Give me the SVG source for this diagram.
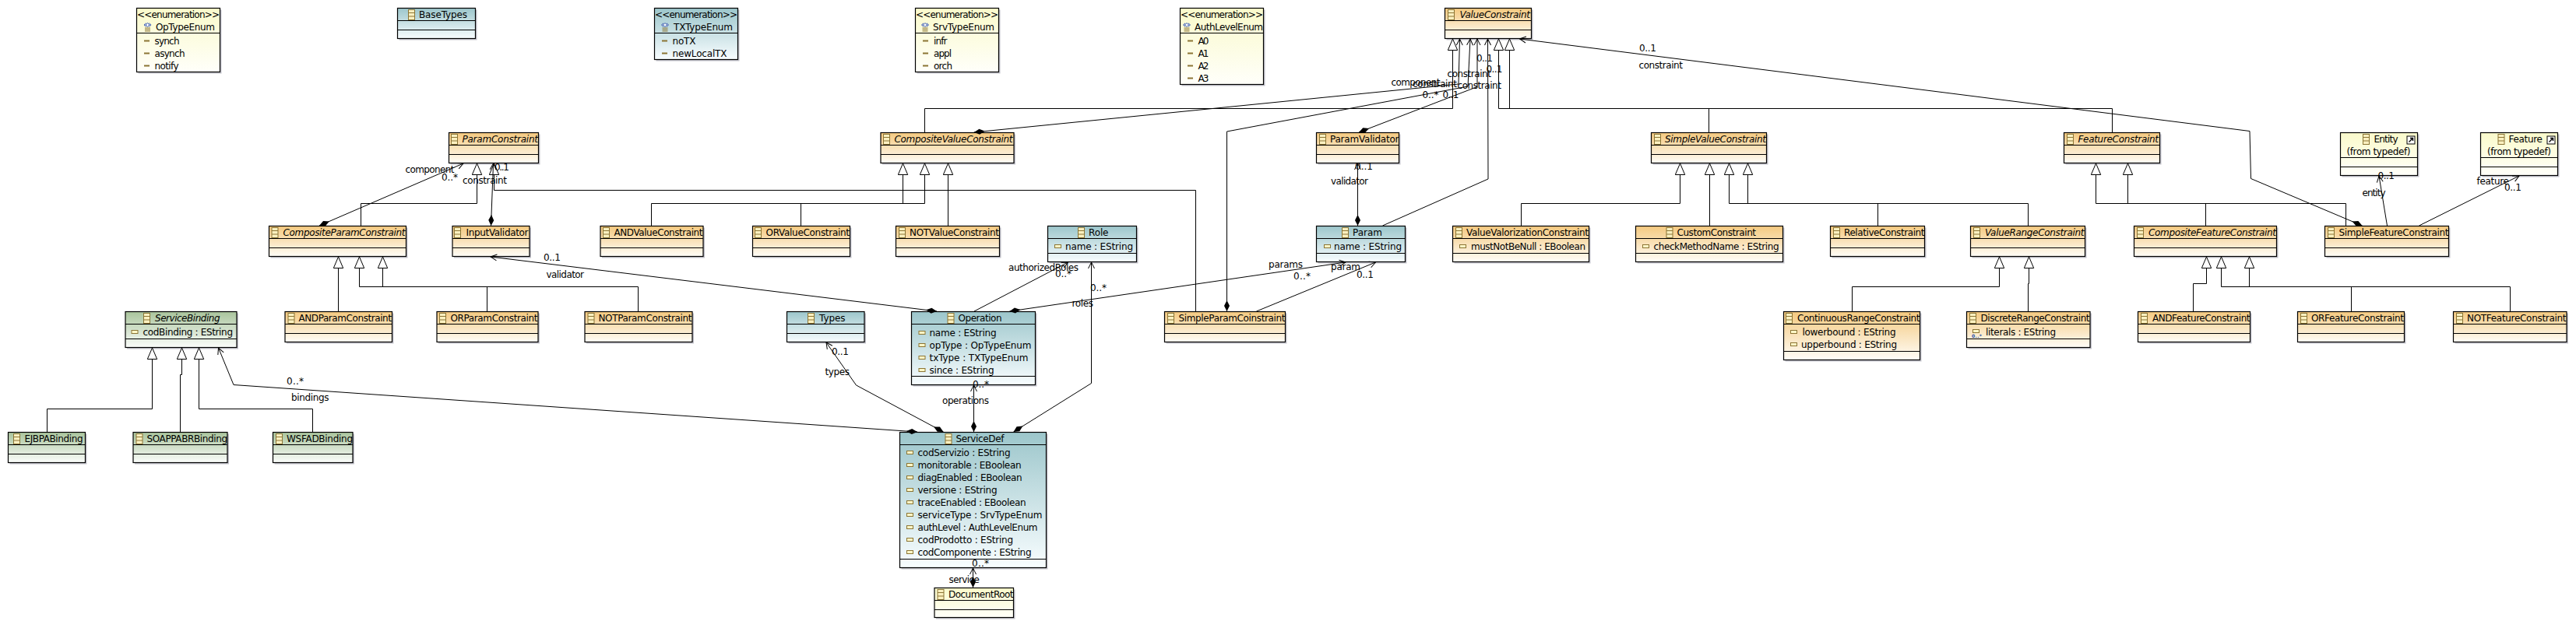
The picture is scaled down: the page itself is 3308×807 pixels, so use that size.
<svg xmlns="http://www.w3.org/2000/svg" width="3308" height="807" viewBox="0 0 3308 807">
<style>
text{font-family:"DejaVu Sans","Liberation Sans",sans-serif;font-size:12px;fill:#000}
.i{font-style:italic}
.s{fill:#c4c4cc;stroke:none}
.n{stroke:#000;stroke-width:1.2}
.o{fill:url(#go)}.t{fill:url(#gt)}.v{fill:url(#gg)}.y{fill:url(#gy)}
.l{fill:none;stroke:#000;stroke-width:1.2}
#edges path{fill:none;stroke:#000;stroke-width:1}
#edges .g{marker-end:url(#tri)}
#edges .a{marker-end:url(#arr)}
#edges .c{marker-start:url(#dia);marker-end:url(#arr)}
</style>
<defs>
<linearGradient id="go" x1="0" y1="0" x2="0" y2="1"><stop offset="0" stop-color="#f4c97f"/><stop offset="1" stop-color="#fffdf8"/></linearGradient>
<linearGradient id="gt" x1="0" y1="0" x2="0" y2="1"><stop offset="0" stop-color="#9cc6cb"/><stop offset="1" stop-color="#f8fdff"/></linearGradient>
<linearGradient id="gg" x1="0" y1="0" x2="0" y2="1"><stop offset="0" stop-color="#a9c49c"/><stop offset="1" stop-color="#fbfdfb"/></linearGradient>
<linearGradient id="gy" x1="0" y1="0" x2="0" y2="1"><stop offset="0" stop-color="#fafacb"/><stop offset="1" stop-color="#fffffa"/></linearGradient>
<marker id="tri" markerUnits="userSpaceOnUse" markerWidth="17" markerHeight="16" refX="15.5" refY="7" orient="auto"><path d="M15.5 7L1 .8V13.2Z" fill="#fff" stroke="#000"/></marker>
<marker id="arr" markerUnits="userSpaceOnUse" markerWidth="11" markerHeight="12" refX="9" refY="5" orient="auto"><path d="M1 1L9 5L1 9" fill="none" stroke="#000"/></marker>
<marker id="dia" markerUnits="userSpaceOnUse" markerWidth="16" markerHeight="10" refX="0" refY="4" orient="auto"><path d="M0 4L7 .5L14 4L7 7.5Z" fill="#000"/></marker>
<g id="ic"><rect x=".5" y=".5" width="8" height="13" fill="#fbf0c0" stroke="#8b7534"/><path d="M.5 4.5H8.5M.5 9H8.5" stroke="#8b7534"/></g>
<rect id="at" x=".5" y=".5" width="8" height="4" fill="#fff8c8" stroke="#8b7534"/>
<rect id="lit" width="7" height="2" fill="#8b7534"/>
<g id="en"><path d="M4.5 .5L7 3L4.5 5.5L2 3ZM2.5 .8L0 3L2.5 5.2M6.5 .8L9 3L6.5 5.2" fill="#fff" stroke="#2b4fa8"/><path d="M1 7H8M1 9H8M1 11H8" stroke="#8b7534"/></g>
<g id="lk"><rect x=".5" y=".5" width="10" height="10" fill="#fff" stroke="#000"/><path d="M3 8L7.5 3.5M4.5 3H8V6.5" stroke="#000" fill="none" stroke-width="1.4"/></g>
</defs>
<rect width="3308" height="807" fill="#fff"/>

<g id="n-OpTypeEnum"><rect class="s" x="177.5" y="12.5" width="107" height="82"/><rect class="n y" x="175.5" y="10.5" width="107" height="82"/><path class="l" d="M175.5 42.5H282.5"/><text x="176" y="23" textLength="106">&lt;&lt;enumeration&gt;&gt;</text><use href="#en" x="185" y="29"/><text x="200" y="38.5" textLength="76">OpTypeEnum</text><use href="#lit" x="185" y="51.5"/><text x="198.5" y="56.5" textLength="32">synch</text><use href="#lit" x="185" y="67.5"/><text x="198.5" y="72.5" textLength="39">asynch</text><use href="#lit" x="185" y="83.5"/><text x="198.5" y="88.5" textLength="31">notify</text></g>
<g id="n-BaseTypes"><rect class="s" x="512.5" y="12.5" width="100" height="39"/><rect class="n t" x="510.5" y="10.5" width="100" height="39"/><path class="l" d="M510.5 26.5H610.5M510.5 38.5H610.5"/><use href="#ic" x="524" y="12"/><text x="538" y="23" textLength="62">BaseTypes</text></g>
<g id="n-TXTypeEnum"><rect class="s" x="842.5" y="12.5" width="107" height="66"/><rect class="n t" x="840.5" y="10.5" width="107" height="66"/><path class="l" d="M840.5 42.5H947.5"/><text x="841" y="23" textLength="106">&lt;&lt;enumeration&gt;&gt;</text><use href="#en" x="849.5" y="29"/><text x="865" y="38.5" textLength="76">TXTypeEnum</text><use href="#lit" x="850" y="51.5"/><text x="863.5" y="56.5" textLength="30">noTX</text><use href="#lit" x="850" y="67.5"/><text x="863.5" y="72.5" textLength="70">newLocalTX</text></g>
<g id="n-SrvTypeEnum"><rect class="s" x="1177.5" y="12.5" width="107" height="82"/><rect class="n y" x="1175.5" y="10.5" width="107" height="82"/><path class="l" d="M1175.5 42.5H1282.5"/><text x="1176" y="23" textLength="106">&lt;&lt;enumeration&gt;&gt;</text><use href="#en" x="1183.5" y="29"/><text x="1198" y="38.5" textLength="79">SrvTypeEnum</text><use href="#lit" x="1185" y="51.5"/><text x="1199" y="56.5" textLength="17.5">infr</text><use href="#lit" x="1185" y="67.5"/><text x="1199" y="72.5" textLength="23">appl</text><use href="#lit" x="1185" y="83.5"/><text x="1199" y="88.5" textLength="24">orch</text></g>
<g id="n-AuthLevelEnum"><rect class="s" x="1517.5" y="12.5" width="107" height="98"/><rect class="n y" x="1515.5" y="10.5" width="107" height="98"/><path class="l" d="M1515.5 42.5H1622.5"/><text x="1516" y="23" textLength="106">&lt;&lt;enumeration&gt;&gt;</text><use href="#en" x="1519.5" y="29"/><text x="1534" y="38.5" textLength="88">AuthLevelEnum</text><use href="#lit" x="1525" y="51.5"/><text x="1538.5" y="56.5" textLength="14">A0</text><use href="#lit" x="1525" y="67.5"/><text x="1538.5" y="72.5" textLength="14">A1</text><use href="#lit" x="1525" y="83.5"/><text x="1538.5" y="88.5" textLength="14">A2</text><use href="#lit" x="1525" y="99.5"/><text x="1538.5" y="104.5" textLength="14">A3</text></g>
<g id="n-ValueConstraint"><rect class="s" x="1857.5" y="12.5" width="111" height="39"/><rect class="n o" x="1855.5" y="10.5" width="111" height="39"/><path class="l" d="M1855.5 26.5H1966.5M1855.5 38.5H1966.5"/><use href="#ic" x="1859" y="12"/><text class="i" x="1874.5" y="23" textLength="90.5">ValueConstraint</text></g>

<g id="n-ParamConstraint"><rect class="s" x="578.5" y="172.5" width="115" height="39"/><rect class="n o" x="576.5" y="170.5" width="115" height="39"/><path class="l" d="M576.5 186.5H691.5M576.5 198.5H691.5"/><use href="#ic" x="579" y="172"/><text class="i" x="593.5" y="183" textLength="97.5">ParamConstraint</text></g>
<g id="n-CompositeValueConstraint"><rect class="s" x="1133" y="172.5" width="171" height="39"/><rect class="n o" x="1131" y="170.5" width="171" height="39"/><path class="l" d="M1131 186.5H1302M1131 198.5H1302"/><use href="#ic" x="1134" y="172"/><text class="i" x="1148.5" y="183" textLength="152">CompositeValueConstraint</text></g>
<g id="n-ParamValidator"><rect class="s" x="1692.5" y="172.5" width="106" height="39"/><rect class="n o" x="1690.5" y="170.5" width="106" height="39"/><path class="l" d="M1690.5 186.5H1796.5M1690.5 198.5H1796.5"/><use href="#ic" x="1694" y="172"/><text x="1708" y="183" textLength="88.5">ParamValidator</text></g>
<g id="n-SimpleValueConstraint"><rect class="s" x="2122.5" y="172.5" width="148" height="39"/><rect class="n o" x="2120.5" y="170.5" width="148" height="39"/><path class="l" d="M2120.5 186.5H2268.5M2120.5 198.5H2268.5"/><use href="#ic" x="2124" y="172"/><text class="i" x="2138" y="183" textLength="130">SimpleValueConstraint</text></g>
<g id="n-FeatureConstraint"><rect class="s" x="2652.5" y="172.5" width="123" height="39"/><rect class="n o" x="2650.5" y="170.5" width="123" height="39"/><path class="l" d="M2650.5 186.5H2773.5M2650.5 198.5H2773.5"/><use href="#ic" x="2654" y="172"/><text class="i" x="2668.5" y="183" textLength="103.5">FeatureConstraint</text></g>
<g id="n-Entity"><rect class="s" x="3007.5" y="172.5" width="99" height="55"/><rect class="n y" x="3005.5" y="170.5" width="99" height="55"/><path class="l" d="M3005.5 202.5H3104.5M3005.5 214.5H3104.5"/><use href="#ic" x="3034" y="172"/><text x="3048.5" y="183" textLength="31">Entity</text><use href="#lk" x="3090.5" y="174.5"/><text x="3013.5" y="198.5" textLength="82">(from typedef)</text></g>
<g id="n-Feature"><rect class="s" x="3187.5" y="172.5" width="99" height="55"/><rect class="n y" x="3185.5" y="170.5" width="99" height="55"/><path class="l" d="M3185.5 202.5H3284.5M3185.5 214.5H3284.5"/><use href="#ic" x="3207.5" y="172"/><text x="3221.5" y="183" textLength="43.5">Feature</text><use href="#lk" x="3270.5" y="174.5"/><text x="3194" y="198.5" textLength="82">(from typedef)</text></g>

<g id="n-CompositeParamConstraint"><rect class="s" x="347.5" y="292.5" width="176" height="39"/><rect class="n o" x="345.5" y="290.5" width="176" height="39"/><path class="l" d="M345.5 306.5H521.5M345.5 318.5H521.5"/><use href="#ic" x="348.5" y="292"/><text class="i" x="363.5" y="303" textLength="157">CompositeParamConstraint</text></g>
<g id="n-InputValidator"><rect class="s" x="583" y="292.5" width="99" height="39"/><rect class="n o" x="581" y="290.5" width="99" height="39"/><path class="l" d="M581 306.5H680M581 318.5H680"/><use href="#ic" x="583" y="292"/><text x="598.5" y="303" textLength="80">InputValidator</text></g>
<g id="n-ANDValueConstraint"><rect class="s" x="773" y="292.5" width="132" height="39"/><rect class="n o" x="771" y="290.5" width="132" height="39"/><path class="l" d="M771 306.5H903M771 318.5H903"/><use href="#ic" x="774" y="292"/><text x="788.5" y="303" textLength="114">ANDValueConstraint</text></g>
<g id="n-ORValueConstraint"><rect class="s" x="968.5" y="292.5" width="125" height="39"/><rect class="n o" x="966.5" y="290.5" width="125" height="39"/><path class="l" d="M966.5 306.5H1091.5M966.5 318.5H1091.5"/><use href="#ic" x="969" y="292"/><text x="983.5" y="303" textLength="107.5">ORValueConstraint</text></g>
<g id="n-NOTValueConstraint"><rect class="s" x="1152.5" y="292.5" width="133" height="39"/><rect class="n o" x="1150.5" y="290.5" width="133" height="39"/><path class="l" d="M1150.5 306.5H1283.5M1150.5 318.5H1283.5"/><use href="#ic" x="1154" y="292"/><text x="1168" y="303" textLength="115">NOTValueConstraint</text></g>
<g id="n-Role"><rect class="s" x="1347.5" y="292.5" width="114" height="46"/><rect class="n t" x="1345.5" y="290.5" width="114" height="46"/><path class="l" d="M1345.5 306.5H1459.5M1345.5 325.5H1459.5"/><use href="#ic" x="1384" y="292"/><text x="1398" y="303" textLength="25.5">Role</text><use href="#at" x="1354" y="314"/><text x="1368" y="321" textLength="87">name : EString</text></g>
<g id="n-Param"><rect class="s" x="1692.5" y="292.5" width="114" height="46"/><rect class="n t" x="1690.5" y="290.5" width="114" height="46"/><path class="l" d="M1690.5 306.5H1804.5M1690.5 325.5H1804.5"/><use href="#ic" x="1723" y="292"/><text x="1737" y="303" textLength="38">Param</text><use href="#at" x="1700" y="314"/><text x="1713" y="321" textLength="87">name : EString</text></g>
<g id="n-ValueValorizationConstraint"><rect class="s" x="1867.5" y="292.5" width="175" height="46"/><rect class="n o" x="1865.5" y="290.5" width="175" height="46"/><path class="l" d="M1865.5 306.5H2040.5M1865.5 325.5H2040.5"/><use href="#ic" x="1869" y="292"/><text x="1883" y="303" textLength="157">ValueValorizationConstraint</text><use href="#at" x="1874" y="314"/><text x="1889" y="321" textLength="147">mustNotBeNull : EBoolean</text></g>
<g id="n-CustomConstraint"><rect class="s" x="2102.5" y="292.5" width="189" height="46"/><rect class="n o" x="2100.5" y="290.5" width="189" height="46"/><path class="l" d="M2100.5 306.5H2289.5M2100.5 325.5H2289.5"/><use href="#ic" x="2139.5" y="292"/><text x="2153.5" y="303" textLength="101.5">CustomConstraint</text><use href="#at" x="2109" y="314"/><text x="2123.5" y="321" textLength="161">checkMethodName : EString</text></g>
<g id="n-RelativeConstraint"><rect class="s" x="2352.5" y="292.5" width="121" height="39"/><rect class="n o" x="2350.5" y="290.5" width="121" height="39"/><path class="l" d="M2350.5 306.5H2471.5M2350.5 318.5H2471.5"/><use href="#ic" x="2354" y="292"/><text x="2368" y="303" textLength="103.5">RelativeConstraint</text></g>
<g id="n-ValueRangeConstraint"><rect class="s" x="2532.5" y="292.5" width="147" height="39"/><rect class="n o" x="2530.5" y="290.5" width="147" height="39"/><path class="l" d="M2530.5 306.5H2677.5M2530.5 318.5H2677.5"/><use href="#ic" x="2534" y="292"/><text class="i" x="2549" y="303" textLength="127.5">ValueRangeConstraint</text></g>
<g id="n-CompositeFeatureConstraint"><rect class="s" x="2742.5" y="292.5" width="183" height="39"/><rect class="n o" x="2740.5" y="290.5" width="183" height="39"/><path class="l" d="M2740.5 306.5H2923.5M2740.5 318.5H2923.5"/><use href="#ic" x="2744" y="292"/><text class="i" x="2759" y="303" textLength="164">CompositeFeatureConstraint</text></g>
<g id="n-SimpleFeatureConstraint"><rect class="s" x="2987.5" y="292.5" width="159" height="39"/><rect class="n o" x="2985.5" y="290.5" width="159" height="39"/><path class="l" d="M2985.5 306.5H3144.5M2985.5 318.5H3144.5"/><use href="#ic" x="2989" y="292"/><text x="3003.5" y="303" textLength="141">SimpleFeatureConstraint</text></g>

<g id="n-ServiceBinding"><rect class="s" x="163" y="402.5" width="143" height="46"/><rect class="n v" x="161" y="400.5" width="143" height="46"/><path class="l" d="M161 416.5H304M161 435.5H304"/><use href="#ic" x="184" y="402"/><text class="i" x="199" y="413" textLength="83.5">ServiceBinding</text><use href="#at" x="168.5" y="424"/><text x="183.5" y="431" textLength="115.5">codBinding : EString</text></g>
<g id="n-ANDParamConstraint"><rect class="s" x="368" y="402.5" width="137.5" height="39"/><rect class="n o" x="366" y="400.5" width="137.5" height="39"/><path class="l" d="M366 416.5H503.5M366 428.5H503.5"/><use href="#ic" x="369.5" y="402"/><text x="383.5" y="413" textLength="119.5">ANDParamConstraint</text></g>
<g id="n-ORParamConstraint"><rect class="s" x="563" y="402.5" width="130" height="39"/><rect class="n o" x="561" y="400.5" width="130" height="39"/><path class="l" d="M561 416.5H691M561 428.5H691"/><use href="#ic" x="564" y="402"/><text x="578.5" y="413" textLength="112">ORParamConstraint</text></g>
<g id="n-NOTParamConstraint"><rect class="s" x="753" y="402.5" width="138" height="39"/><rect class="n o" x="751" y="400.5" width="138" height="39"/><path class="l" d="M751 416.5H889M751 428.5H889"/><use href="#ic" x="754.5" y="402"/><text x="768.5" y="413" textLength="120">NOTParamConstraint</text></g>
<g id="n-Types"><rect class="s" x="1012.5" y="402.5" width="99.5" height="39"/><rect class="n t" x="1010.5" y="400.5" width="99.5" height="39"/><path class="l" d="M1010.5 416.5H1110M1010.5 428.5H1110"/><use href="#ic" x="1037" y="402"/><text x="1052" y="413" textLength="33.5">Types</text></g>
<g id="n-Operation"><rect class="s" x="1172.5" y="402.5" width="159" height="94"/><rect class="n t" x="1170.5" y="400.5" width="159" height="94"/><path class="l" d="M1170.5 416.5H1329.5M1170.5 483.5H1329.5"/><use href="#ic" x="1216.5" y="402"/><text x="1230.5" y="413" textLength="56">Operation</text><use href="#at" x="1179.5" y="425"/><text x="1193.5" y="431.5" textLength="86">name : EString</text><use href="#at" x="1179.5" y="441"/><text x="1193.5" y="447.5" textLength="131">opType : OpTypeEnum</text><use href="#at" x="1179.5" y="457"/><text x="1193.5" y="463.5" textLength="127">txType : TXTypeEnum</text><use href="#at" x="1179.5" y="473"/><text x="1193.5" y="479.5" textLength="83">since : EString</text></g>
<g id="n-SimpleParamCoinstraint"><rect class="s" x="1497.5" y="402.5" width="155" height="39"/><rect class="n o" x="1495.5" y="400.5" width="155" height="39"/><path class="l" d="M1495.5 416.5H1650.5M1495.5 428.5H1650.5"/><use href="#ic" x="1499" y="402"/><text x="1513.5" y="413" textLength="137">SimpleParamCoinstraint</text></g>
<g id="n-ContinuousRangeConstraint"><rect class="s" x="2292.5" y="402.5" width="175" height="62"/><rect class="n o" x="2290.5" y="400.5" width="175" height="62"/><path class="l" d="M2290.5 416.5H2465.5M2290.5 451.5H2465.5"/><use href="#ic" x="2293" y="402"/><text x="2308" y="413" textLength="157.5">ContinuousRangeConstraint</text><use href="#at" x="2299" y="424"/><text x="2314.5" y="430.5" textLength="120">lowerbound : EString</text><use href="#at" x="2299" y="440"/><text x="2313" y="446.5" textLength="123">upperbound : EString</text></g>
<g id="n-DiscreteRangeConstraint"><rect class="s" x="2527.5" y="402.5" width="158.5" height="46"/><rect class="n o" x="2525.5" y="400.5" width="158.5" height="46"/><path class="l" d="M2525.5 416.5H2684M2525.5 435.5H2684"/><use href="#ic" x="2529" y="402"/><text x="2543.5" y="413" textLength="140">DiscreteRangeConstraint</text><use href="#at" x="2533" y="423"/><text x="2532" y="433.5" style="font-size:6px;fill:#1f4fa8;font-weight:bold" textLength="13">0..*</text><text x="2550" y="431" textLength="90">literals : EString</text></g>
<g id="n-ANDFeatureConstraint"><rect class="s" x="2747.5" y="402.5" width="144" height="39"/><rect class="n o" x="2745.5" y="400.5" width="144" height="39"/><path class="l" d="M2745.5 416.5H2889.5M2745.5 428.5H2889.5"/><use href="#ic" x="2749" y="402"/><text x="2764" y="413" textLength="125.5">ANDFeatureConstraint</text></g>
<g id="n-ORFeatureConstraint"><rect class="s" x="2952.5" y="402.5" width="137" height="39"/><rect class="n o" x="2950.5" y="400.5" width="137" height="39"/><path class="l" d="M2950.5 416.5H3087.5M2950.5 428.5H3087.5"/><use href="#ic" x="2954" y="402"/><text x="2968" y="413" textLength="119">ORFeatureConstraint</text></g>
<g id="n-NOTFeatureConstraint"><rect class="s" x="3152.5" y="402.5" width="145.5" height="39"/><rect class="n o" x="3150.5" y="400.5" width="145.5" height="39"/><path class="l" d="M3150.5 416.5H3296M3150.5 428.5H3296"/><use href="#ic" x="3154" y="402"/><text x="3168" y="413" textLength="127.5">NOTFeatureConstraint</text></g>

<g id="n-EJBPABinding"><rect class="s" x="12.5" y="557.5" width="99" height="39"/><rect class="n v" x="10.5" y="555.5" width="99" height="39"/><path class="l" d="M10.5 571.5H109.5M10.5 583.5H109.5"/><use href="#ic" x="17" y="557"/><text x="31.5" y="568" textLength="75">EJBPABinding</text></g>
<g id="n-SOAPPABRBinding"><rect class="s" x="173" y="557.5" width="121" height="39"/><rect class="n v" x="171" y="555.5" width="121" height="39"/><path class="l" d="M171 571.5H292M171 583.5H292"/><use href="#ic" x="174.5" y="557"/><text x="188.5" y="568" textLength="103.5">SOAPPABRBinding</text></g>
<g id="n-WSFADBinding"><rect class="s" x="352.5" y="557.5" width="102.5" height="39"/><rect class="n v" x="350.5" y="555.5" width="102.5" height="39"/><path class="l" d="M350.5 571.5H453M350.5 583.5H453"/><use href="#ic" x="354" y="557"/><text x="368" y="568" textLength="85">WSFADBinding</text></g>
<g id="n-ServiceDef"><rect class="s" x="1157.5" y="557.5" width="188" height="174"/><rect class="n t" x="1155.5" y="555.5" width="188" height="174"/><path class="l" d="M1155.5 571.5H1343.5M1155.5 718.5H1343.5"/><use href="#ic" x="1213.5" y="557"/><text x="1227.5" y="568" textLength="62">ServiceDef</text>
<use href="#at" x="1164" y="579"/><text x="1178.5" y="586" textLength="119">codServizio : EString</text>
<use href="#at" x="1164" y="595"/><text x="1178.5" y="602" textLength="133">monitorable : EBoolean</text>
<use href="#at" x="1164" y="611"/><text x="1178.5" y="618" textLength="134">diagEnabled : EBoolean</text>
<use href="#at" x="1164" y="627"/><text x="1178.5" y="634" textLength="102">versione : EString</text>
<use href="#at" x="1164" y="643"/><text x="1178.5" y="650" textLength="139">traceEnabled : EBoolean</text>
<use href="#at" x="1164" y="659"/><text x="1178.5" y="666" textLength="160">serviceType : SrvTypeEnum</text>
<use href="#at" x="1164" y="675"/><text x="1178.5" y="682" textLength="154">authLevel : AuthLevelEnum</text>
<use href="#at" x="1164" y="691"/><text x="1178.5" y="698" textLength="122.5">codProdotto : EString</text>
<use href="#at" x="1164" y="707"/><text x="1178.5" y="714" textLength="146">codComponente : EString</text></g>
<g id="n-DocumentRoot"><rect class="s" x="1202" y="757.5" width="101.5" height="38"/><rect class="n y" x="1200" y="755.5" width="101.5" height="38"/><path class="l" d="M1200 771.5H1301.5M1200 783.5H1301.5"/><use href="#ic" x="1203.5" y="757"/><text x="1218" y="768" textLength="83.5">DocumentRoot</text></g>

<g id="edges">
<path class="g" d="M463.5 290V261.5H612.5V210"/>
<path class="g" d="M434.5 400V330"/>
<path class="g" d="M625.5 400V368.5H491.5V330"/>
<path class="g" d="M819.5 400V368.5H461.5V330"/>
<path class="g" d="M1535.5 400V244.5H634.5V210"/>
<path class="g" d="M1187.5 170V139.5H1865.5V50"/>
<path class="g" d="M2194.5 170V139.5H1924.5V50"/>
<path class="g" d="M2712.5 170V139.5H1938.5V50"/>
<path class="g" d="M836.5 290V261.5H1159.5V210"/>
<path class="g" d="M1028.5 290V261.5H1187.5V210"/>
<path class="g" d="M1217.5 290V210"/>
<path class="g" d="M1953.5 290V261.5H2157.5V210"/>
<path class="g" d="M2195.5 290V210"/>
<path class="g" d="M2411.5 290V261.5H2220.5V210"/>
<path class="g" d="M2604.5 290V261.5H2244.5V210"/>
<path class="g" d="M2378.5 400V368.5H2567.5V330"/>
<path class="g" d="M2604.5 400V364.5H2605.5V330"/>
<path class="g" d="M2832.5 290V261.5H2691.5V210"/>
<path class="g" d="M3012.5 290V261.5H2732.5V210"/>
<path class="g" d="M2816.5 400V364.5H2833.5V330"/>
<path class="g" d="M3019.5 400V368.5H2852.5V330"/>
<path class="g" d="M3223.5 400V368.5H2888.5V330"/>
<path class="g" d="M60.5 555V525.5H195.5V447"/>
<path class="g" d="M231.5 555V481.5H233.5V447"/>
<path class="g" d="M401.5 555V525.5H255.5V447"/>
<path class="c" d="M410 290L595 210"/>
<path class="c" d="M630.5 290L633.5 210"/>
<path class="c" d="M1203 400L630 330"/>
<path class="c" d="M1250.8 170L1873 108L1874.5 50"/>
<path class="c" d="M1575.5 400V169L1885 111L1888 50"/>
<path class="c" d="M1745 170L1897 111.5V50"/>
<path class="c" d="M1743.5 290V210"/>
<path class="c" d="M1296.5 400L1728 337"/>
<path class="c" d="M1250.5 555V495"/>
<path class="c" d="M1301.5 555L1401.5 492.5V337"/>
<path class="c" d="M1211.5 555L1099.5 495L1061 440"/>
<path class="c" d="M1178 555L300 494.5L280.5 447"/>
<path class="c" d="M1249.5 755V730"/>
<path class="c" d="M3033.5 290L2890.5 229.5L2889 168.5L1951.5 50"/>
<path class="a" d="M1251 400L1371.5 337"/>
<path class="a" d="M1613.5 400L1766.5 337"/>
<path class="a" d="M1775.5 290L1911 230L1910.5 50"/>
<path class="a" d="M3065.5 290L3055 226"/>
<path class="a" d="M3106.5 290L3235 226"/>
</g>
<g id="labels">
<text x="520.5" y="222" textLength="63">component</text>
<text x="567" y="232" textLength="21">0..*</text>
<text x="635" y="219" textLength="19">0..1</text>
<text x="594" y="236" textLength="57">constraint</text>
<text x="698" y="334.5" textLength="22">0..1</text>
<text x="701.5" y="356.5" textLength="48.5">validator</text>
<text x="2105" y="65.5" textLength="22">0..1</text>
<text x="2104.5" y="88" textLength="56.5">constraint</text>
<text x="1896" y="79" textLength="21">0..1</text>
<text x="1908.5" y="93" textLength="21">0..1</text>
<text x="1858.5" y="99" textLength="56.5">constraint</text>
<text x="1786.5" y="110" textLength="63">component</text>
<text x="1814" y="111.5" textLength="57">constraint</text>
<text x="1871.5" y="114" textLength="56.5">constraint</text>
<text x="1826.5" y="126" textLength="21">0..*</text>
<text x="1852.5" y="126" textLength="21">0..1</text>
<text x="1740" y="218" textLength="23">0..1</text>
<text x="1709" y="236.5" textLength="48">validator</text>
<text x="3053.5" y="230" textLength="21.5">0..1</text>
<text x="3033.5" y="252" textLength="30">entity</text>
<text x="3180.5" y="236.5" textLength="41.5">feature</text>
<text x="3216" y="244.5" textLength="22">0..1</text>
<text x="1295" y="347.5" textLength="90">authorizedRoles</text>
<text x="1355" y="355.5" textLength="21">0..*</text>
<text x="1629" y="343.5" textLength="44">params</text>
<text x="1661" y="359" textLength="22">0..*</text>
<text x="1709" y="347" textLength="38">param</text>
<text x="1742" y="356.5" textLength="22">0..1</text>
<text x="1400" y="373.5" textLength="21">0..*</text>
<text x="1376.5" y="394" textLength="27.5">roles</text>
<text x="1249" y="498" textLength="21">0..*</text>
<text x="1210" y="519" textLength="60">operations</text>
<text x="1068" y="455.5" textLength="22">0..1</text>
<text x="1059.5" y="482" textLength="31.5">types</text>
<text x="368" y="494" textLength="22">0..*</text>
<text x="374" y="515" textLength="48.5">bindings</text>
<text x="1248" y="727.5" textLength="22">0..*</text>
<text x="1218.5" y="748.5" textLength="39.5">service</text>
</g>
</svg>
